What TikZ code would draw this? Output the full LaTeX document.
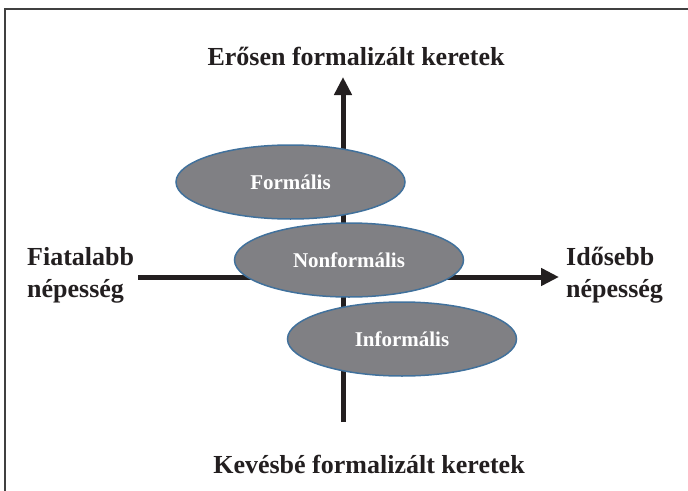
\documentclass[tikz,border=0pt]{standalone}
\usepackage{fontspec}
\setmainfont{Liberation Serif}
\usetikzlibrary{shapes.geometric,arrows.meta}
\definecolor{ellfill}{RGB}{128,128,132}
\definecolor{ellline}{RGB}{65,113,156}
\definecolor{ink}{RGB}{35,31,32}
\tikzset{
  oval/.style={ellipse, draw=ellline, line width=1.5pt, fill=ellfill,
    minimum width=229pt, minimum height=74pt, inner sep=0pt,
    text=white, font=\fontsize{21}{25}\selectfont\bfseries},
  title/.style={inner sep=0pt, text=ink, font=\fontsize{26}{32}\selectfont\bfseries},
  axis/.style={draw=ink, line width=5pt, -{Triangle[length=18pt,width=17pt]}},
}
\begin{document}
\begin{tikzpicture}[x=1pt,y=-1pt]
\useasboundingbox (0,0) rectangle (688,490);
\begin{scope}
\clip (0,0) rectangle (688,490);
\draw[line width=2pt, draw=black!75] (5,9) rectangle (720,520);
\end{scope}
% axes
\coordinate (vbot) at (343,422);
\coordinate (vtop) at (343,77);
\coordinate (hleft) at (138,277);
\coordinate (hright) at (559,277);
\draw[axis] (vbot) -- (vtop);
\draw[axis] (hleft) -- (hright);
% ellipses
\node[oval] (formalis) at (290.5,182) {Formális};
\node[oval] (nonformalis) at (349,260) {Nonformális};
\node[oval] (informalis) at (402,339) {Informális};
% labels
\node[title, anchor=base] (top) at (356,65) {Erősen formalizált keretek};
\node[title, anchor=base] (bottom) at (369,473) {Kevésbé formalizált keretek};
\node[title, anchor=north west, align=left] (left) at (27,247) {Fiatalabb\\népesség};
\node[title, anchor=north west, align=left] (right) at (566,247) {Idősebb\\népesség};
\end{tikzpicture}
\end{document}
